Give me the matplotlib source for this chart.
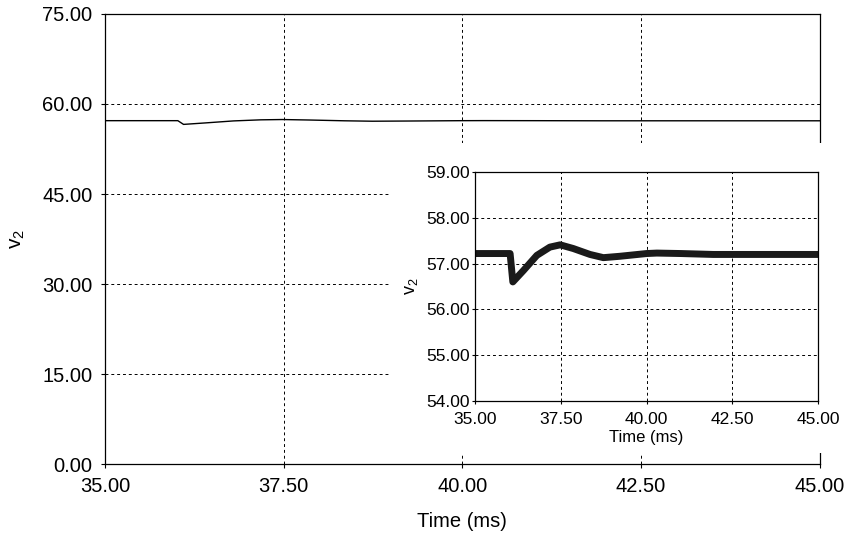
import matplotlib
matplotlib.use("Agg")
import matplotlib.pyplot as plt
from matplotlib.patches import Rectangle

plt.rcParams["font.family"] = ["Liberation Sans", "DejaVu Sans"]
plt.rcParams["mathtext.fontset"] = "custom"
plt.rcParams["mathtext.rm"] = "Liberation Sans"
plt.rcParams["mathtext.it"] = "Liberation Sans:italic"

# v2 response (time in ms, voltage)
time_ms = [35.0, 36.02, 36.1, 36.41, 36.8, 37.18, 37.48, 37.86, 38.35, 38.74,
           39.22, 40.0, 40.3, 41.0, 41.94, 43.5, 45.0]
v2 = [57.22, 57.22, 56.6, 56.85, 57.18, 57.36, 57.41, 57.33, 57.2, 57.13,
      57.16, 57.22, 57.23, 57.22, 57.2, 57.2, 57.2]

main_yticks = [0, 15, 30, 45, 60, 75]
inset_yticks = [54, 55, 56, 57, 58, 59]
xticks = [35, 37.5, 40, 42.5, 45]

grid_kw = dict(color="black", linestyle=(0, (3, 3)), linewidth=0.7)

fig = plt.figure(figsize=(8.53, 5.36), dpi=100)
ax = fig.add_axes([0.123, 0.134, 0.838, 0.840])
ax.plot(time_ms, v2, color="black", linewidth=1.0)
ax.set_xlim(35, 45)
ax.set_ylim(0, 75)
ax.set_xticks(xticks)
ax.set_yticks(main_yticks)
ax.set_xticklabels([f"{t:.2f}" for t in xticks], fontsize=14.5)
ax.set_yticklabels([f"{t:.2f}" for t in main_yticks], fontsize=14.5)
ax.tick_params(direction="out", length=3, width=0.8, pad=6)
ax.grid(True, **grid_kw)
for s in ax.spines.values():
    s.set_linewidth(0.9)
ax.set_xlabel("Time (ms)", fontsize=14.5, labelpad=12)
ax.set_ylabel(r"$\mathrm{v}_2$", fontsize=15, labelpad=11)

# white cover behind the inset
fig.add_artist(Rectangle((0.457, 0.155), 0.53, 0.578, transform=fig.transFigure,
                         facecolor="white", edgecolor="none", zorder=1))

ins = fig.add_axes([0.557, 0.252, 0.402, 0.427])
ins.set_zorder(2)
ins.plot(time_ms, v2, color="#1a1a1a", linewidth=5.0, solid_joinstyle="round")
ins.set_xlim(35, 45)
ins.set_ylim(54, 59)
ins.set_xticks(xticks)
ins.set_yticks(inset_yticks)
ins.set_xticklabels([f"{t:.2f}" for t in xticks], fontsize=12.5)
ins.set_yticklabels([f"{t:.2f}" for t in inset_yticks], fontsize=12.5)
ins.tick_params(axis="x", direction="out", length=2, width=0.8, pad=6)
ins.tick_params(axis="y", direction="out", length=2, width=0.8, pad=2)
ins.grid(True, **grid_kw)
for s in ins.spines.values():
    s.set_linewidth(0.9)
ins.set_xlabel("Time (ms)", fontsize=12, labelpad=2)
ins.set_ylabel(r"$\mathrm{v}_2$", fontsize=13, labelpad=4)

fig.savefig("out.png", dpi=100)
